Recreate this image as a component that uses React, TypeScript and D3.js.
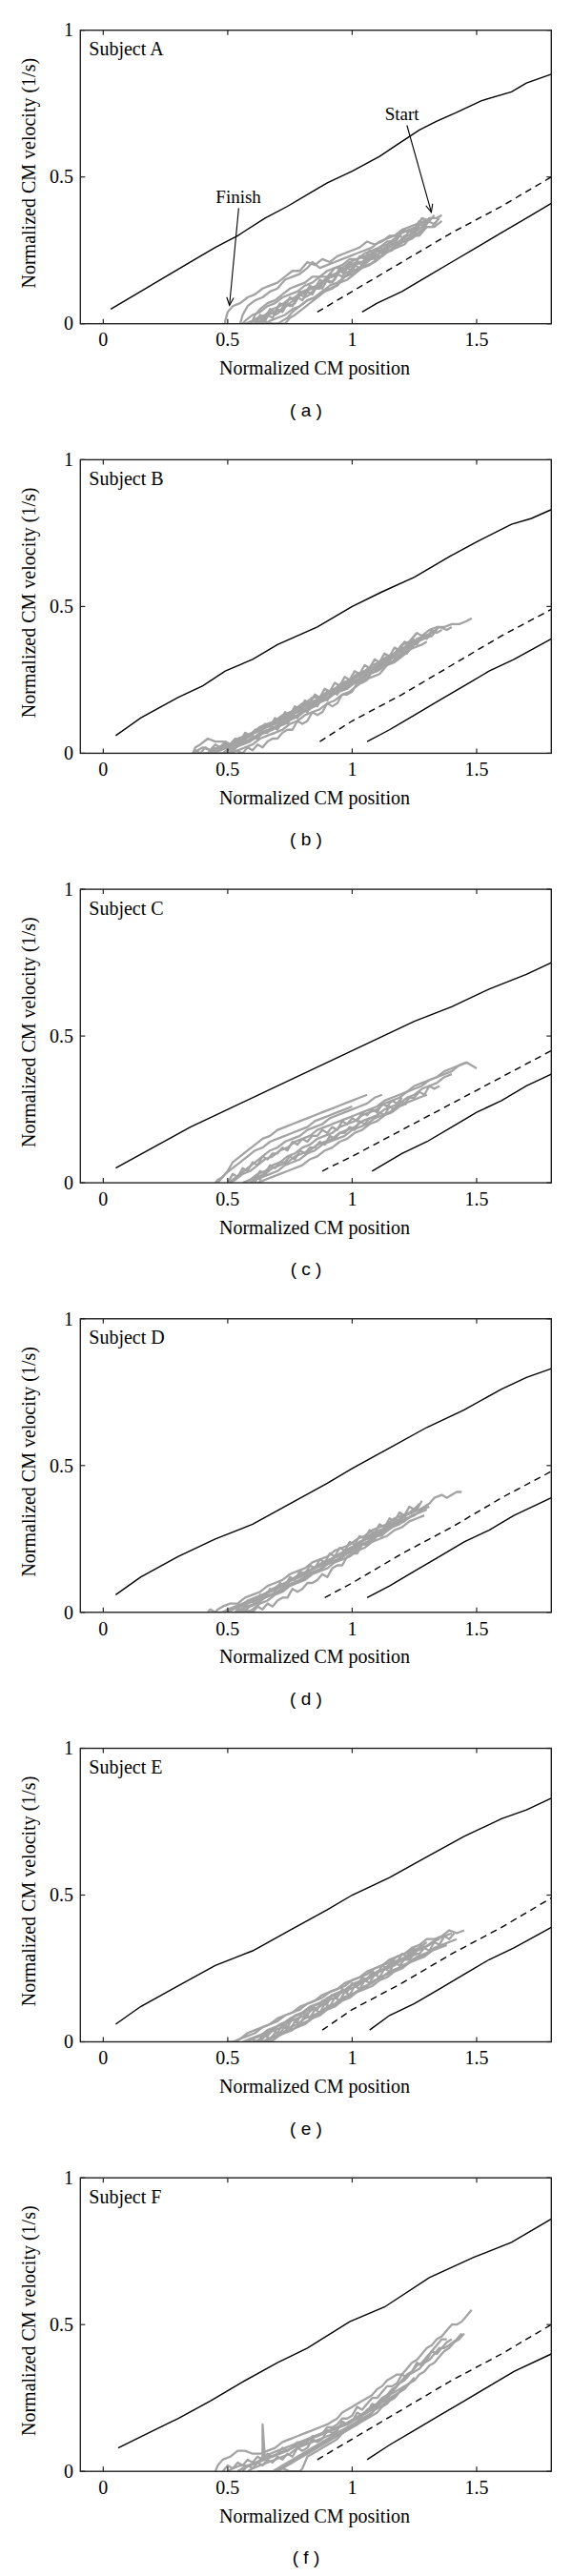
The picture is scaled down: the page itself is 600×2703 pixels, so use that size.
import React from 'react';
import * as d3 from 'd3';

// ---------------- data ----------------
const X_TICKS = [0, 0.5, 1, 1.5];
const X_TICK_LABELS = ['0', '0.5', '1', '1.5'];
const Y_TICKS = [0, 0.5, 1];
const Y_TICK_LABELS = ['0', '0.5', '1'];
const X_LABEL = 'Normalized CM position';
const Y_LABEL = 'Normalized CM velocity (1/s)';
const SUBJECTS = ['Subject A', 'Subject B', 'Subject C', 'Subject D', 'Subject E', 'Subject F'];
const CAPTIONS = ['( a )', '( b )', '( c )', '( d )', '( e )', '( f )'];

// boundary curves (x, y in hundredths)
const upperLines = [
  '3,5 15,11 25,16 37,22 45,26 54,30 65,36 74,40 82,44 90,48 100,52 111,57 118,61 127,66 134,69 142,72 152,76 164,79 170,82 180,85',
  '5,6 15,12 30,19 40,23 49,28 60,32 70,37 86,43 100,50 112,55 125,60 139,67 150,72 164,78 172,80 180,83',
  '5,5 20,12 35,19 50,25 65,31 80,37 95,43 110,49 125,55 140,60 155,66 170,71 180,75',
  '5,6 15,12 30,19 45,25 60,30 75,37 90,44 100,49 115,56 130,63 145,69 160,76 170,80 180,83',
  '5,6 15,12 30,19 45,26 60,31 75,38 90,45 100,50 115,56 130,63 145,70 160,76 170,79 180,83',
  '6,8 18,13 30,18 43,24 55,30 70,37 82,42 99,51 113,56 131,66 149,73 164,78 172,82 180,86',
];
const dashedLines = [
  '86,4 100,11 120,21 140,31 160,40 180,50',
  '87,4 100,11 120,20 140,30 160,40 180,49',
  '88,4 100,9 120,18 140,27 160,36 180,45',
  '89,5 100,10 120,20 140,29 160,39 180,48',
  '88,4 100,11 120,20 140,30 160,39 180,49',
  '86,4 100,11 120,21 140,31 160,40 180,50',
];
const lowerLines = [
  '104,4 110,7 120,11 130,16 140,21 150,26 160,31 170,36 180,41',
  '106,4 115,8 125,13 135,18 145,23 155,28 165,32 180,39',
  '108,4 120,10 130,14 140,19 150,24 160,28 170,33 180,37',
  '106,5 115,9 125,14 135,19 145,24 155,28 165,33 180,39',
  '107,4 115,9 125,13 135,18 145,23 155,28 165,32 180,39',
  '106,4 115,9 125,14 135,19 145,24 155,29 165,34 180,40',
];

// measured trajectories (x, y in hundredths)
const tracesA = [
  '136,37 134,36 131,36 129,34 127,35 124,31 121,32 118,30 115,30 112,28 109,27 106,28 103,26 100,25 97,24 94,23 91,21 88,22 85,20 82,21 79,18 76,18 73,16 70,14 67,13 64,12 61,10 58,9 55,7 52,6 50,4 49,1 49,0',
  '135,36 133,34 130,35 128,33 125,31 122,30 119,28 116,27 113,25 110,25 107,23 104,21 101,20 98,19 95,18 92,16 89,15 86,13 83,12 80,11 77,9 74,8 71,6 68,5 65,3 62,2 60,1 58,0 55,0',
  '134,35 132,33 129,33 127,31 124,29 121,28 118,27 115,25 112,23 109,23 106,21 103,19 100,18 97,16 94,14 91,13 88,11 85,9 82,8 79,6 76,4 74,2 72,1 70,0 66,0',
  '133,37 131,35 128,36 126,33 123,32 120,31 117,28 114,28 111,26 108,25 105,24 102,22 99,22 96,20 93,19 90,16 87,16 84,14 81,13 78,11 75,10 72,9 69,7 66,6 63,4 60,3 57,1 56,0',
  '130,33 128,32 125,30 122,29 119,27 116,25 113,24 110,22 107,20 104,19 101,17 98,15 95,14 92,12 89,11 86,9 83,7 80,5 77,3 75,2 73,0 68,0 64,1 62,0',
  '128,34 126,33 123,32 120,31 117,29 114,27 111,26 108,24 105,23 102,22 99,21 96,19 93,19 90,18 87,16 84,16 81,14 78,13 75,12 72,10 69,8 66,7 63,5 61,3 60,1 59,0',
  '126,31 123,29 120,28 117,27 114,26 111,24 108,23 105,21 102,21 99,20 96,18 93,17 90,16 87,13 84,12 81,11 78,9 75,7 72,5 69,4 66,3 63,1 62,0',
  '136,35 133,33 130,33 127,30 124,30 121,27 118,26 115,25 112,23 109,21 106,20 103,19 100,17 97,16 94,13 91,12 88,11 85,9 82,8 79,6 76,5 73,3 70,2 67,1 65,0 60,0',
  '132,36 129,35 126,34 123,33 120,32 117,30 114,29 111,28 108,26 105,25 102,24 99,23 96,22 93,21 90,20 87,19 84,21 82,19 79,17 76,16 73,15 70,12 67,11 64,9 61,8 58,6 56,3 55,0',
  '131,35 129,33 127,34 125,31 123,32 121,29 119,30 117,27 115,28 113,25 111,26 109,24 107,25 105,22 103,23 101,20 99,21 97,18 95,19 93,16 91,17 89,14 87,15 85,12 83,13 81,10 79,11 77,8 75,9 73,6 71,7 69,4 67,5 65,2 63,3 61,0',
  '127,33 125,32 123,30 121,30 119,28 117,27 115,26 113,26 111,24 109,22 107,23 105,21 103,19 101,20 99,18 97,17 95,18 93,15 91,14 89,15 87,12 85,12 83,10 81,9 79,10 77,7 75,6 73,7 71,4 69,3 67,4 65,1 63,2 61,0 58,0',
  '122,30 120,29 118,27 116,28 114,25 112,24 110,25 108,22 106,22 104,20 102,21 100,18 98,19 96,16 94,17 92,14 90,15 88,12 86,13 84,10 82,11 80,8 78,9 76,6 74,7 72,4 70,5 68,2 66,3 64,0 60,1 57,0',
];
const tracesB = [
  '148,46 146,45 143,44 140,44 137,43 134,43 131,42 128,40 126,41 123,38 120,37 117,34 114,33 111,31 108,30 105,28 102,27 99,25 96,24 93,22 90,21 87,19 84,19 81,17 78,15 75,14 72,13 69,11 66,10 63,9 60,7 57,6 54,5 51,3 48,2 45,1 42,0 40,0',
  '140,43 138,42 135,43 132,41 129,40 126,38 123,37 120,35 117,34 114,32 111,31 108,29 105,27 102,26 99,24 96,23 93,22 90,20 87,19 84,17 81,16 78,14 75,14 72,12 69,11 66,9 63,8 60,7 57,5 54,4 51,3 48,2 45,1 43,0',
  '134,42 132,40 129,40 126,39 123,36 120,34 117,33 114,31 111,29 108,28 105,26 102,25 99,23 96,22 93,21 90,19 87,18 84,16 81,15 78,13 75,12 72,11 69,9 66,8 63,7 60,5 57,4 54,3 51,2 48,0 45,0',
  '126,41 124,39 121,36 118,35 115,32 112,30 109,29 106,27 103,25 100,24 97,22 94,21 91,19 88,18 85,16 82,15 79,13 76,12 73,10 70,9 67,8 64,7 61,5 58,4 55,3 52,1 50,0 48,0',
  '130,38 128,37 125,36 122,35 119,33 116,31 113,30 110,28 107,27 104,25 101,24 98,22 95,21 92,20 89,18 86,17 83,15 80,14 77,12 74,11 71,10 68,8 65,7 62,6 59,4 56,3 53,2 50,1 48,0',
  '124,38 121,36 118,34 115,33 112,31 109,29 106,28 103,27 100,25 97,24 94,22 91,21 88,19 85,18 82,17 79,15 76,13 73,12 70,11 67,10 64,8 61,7 58,6 55,5 52,3 49,3 46,2 43,1 40,2 38,1 36,0',
  '132,40 129,39 126,38 123,35 120,33 117,31 114,30 111,27 108,26 105,25 102,23 99,21 96,20 93,18 90,17 87,15 84,14 81,13 78,11 75,10 72,8 69,7 66,6 63,5 60,3 57,2 54,1 51,0 47,0',
  '120,36 117,34 114,32 111,30 108,29 105,27 102,26 99,24 96,22 93,21 90,20 87,18 84,17 81,15 78,14 75,13 72,11 69,10 66,9 63,8 60,7 57,5 54,4 51,3 48,4 45,4 42,5 39,3 37,2 36,0',
  '128,39 125,37 122,36 119,35 116,33 113,32 110,30 107,28 104,27 101,26 98,24 95,22 92,21 89,20 86,18 83,17 80,17 77,15 74,13 71,12 68,10 65,9 62,8 59,6 56,4 53,3 50,2 47,1 44,0 41,0',
  '125,39 123,37 121,38 119,35 117,36 115,33 113,34 111,31 109,32 107,29 105,30 103,27 101,28 99,25 97,26 95,23 93,24 91,21 89,22 87,19 85,20 83,17 81,18 79,15 77,16 75,13 73,14 71,11 69,12 67,9 65,10 63,8 61,8 59,6 57,7 55,4 53,5 51,3 49,4 47,2 45,3 43,1 41,2 39,0 37,1 36,0',
  '118,33 116,31 114,32 112,29 110,28 108,28 106,25 104,24 102,24 100,21 98,20 96,20 94,17 92,16 90,17 88,14 86,13 84,14 82,11 80,10 78,11 76,8 74,8 72,7 70,5 68,5 66,4 64,2 62,3 60,1 58,2 56,0 53,1 51,0',
  '136,42 134,41 132,42 130,39 128,40 126,37 124,38 122,34 120,35 118,32 116,33 114,30 112,31 110,28 108,29 106,26 104,27 102,24 100,25 98,22 96,23 94,20 92,21 90,18 88,19 86,16 84,17 82,14 80,15 78,12 76,13 74,10 72,11 70,8 68,9 66,7 64,7 62,5 60,6 58,4 56,5 54,3 52,4 50,2 48,3 46,1 44,2 42,0',
];
const tracesC = [
  '150,39 148,40 146,41 143,40 140,38 137,37 134,36 131,35 128,34 125,33 122,31 119,30 116,29 113,28 110,26 107,25 104,24 101,23 98,22 95,21 92,20 89,19 86,18 83,16 80,15 77,14 74,12 71,11 68,9 65,8 62,6 59,4 56,3 53,1 51,0',
  '146,41 143,40 140,39 137,38 134,36 131,35 128,33 125,32 122,31 119,29 116,28 113,27 110,25 107,24 104,23 101,21 98,20 95,19 92,17 89,16 86,15 83,13 80,12 77,10 74,9 71,7 68,6 65,4 62,3 59,1 57,0',
  '106,30 103,29 100,28 97,27 94,26 91,25 88,24 85,23 82,22 79,21 76,20 73,19 70,18 67,16 64,15 61,13 58,11 55,9 52,7 50,4 48,2 46,1 45,0',
  '112,30 109,29 106,27 103,26 100,25 97,24 94,23 91,22 88,20 85,19 82,18 79,16 76,15 73,14 70,12 67,11 64,9 61,7 58,5 55,3 52,1 50,0',
  '130,30 127,29 124,28 121,27 118,26 115,24 112,23 109,22 106,20 103,19 100,18 97,16 94,15 91,14 88,13 85,11 82,10 79,8 76,7 73,6 70,4 67,3 64,2 61,1 59,0',
  '122,27 119,26 116,24 113,23 110,21 107,20 104,18 101,17 98,15 95,14 92,12 89,11 86,9 83,8 80,6 77,5 74,4 71,3 68,2 65,1 62,0',
  '140,37 137,36 134,34 131,33 128,32 125,30 122,29 119,27 116,26 113,25 110,23 107,22 104,21 101,19 98,18 95,17 92,15 89,14 86,13 83,11 80,10 77,9 74,7 71,6 68,5 65,3 62,2 59,1 56,0',
  '100,26 97,25 94,24 91,23 88,22 85,21 82,19 79,18 76,17 73,16 70,15 67,14 64,12 61,11 58,9 55,7 52,5 49,3 47,1 46,0',
  '64,3 63,1 62,2 61,0',
  '120,29 118,27 116,28 114,26 112,27 110,24 108,25 106,23 104,24 102,21 100,22 98,20 96,21 94,18 92,19 90,17 88,18 86,16 84,16 82,14 80,15 78,13 76,14 74,11 72,12 70,10 68,10 66,8 64,9 62,6 60,7 58,4 56,5 54,2 52,3 50,0',
  '135,33 133,32 131,33 129,30 127,31 125,29 123,29 121,27 119,28 117,25 115,26 113,23 111,24 109,22 107,22 105,20 103,21 101,18 99,19 97,17 95,17 93,15 91,16 89,13 87,14 85,12 83,12 81,10 79,11 77,8 75,9 73,7 71,7 69,5 67,6 65,3 63,4 61,1 59,0',
];
const tracesD = [
  '144,41 142,41 140,40 138,39 136,40 133,39 131,37 129,36 127,35 124,34 121,33 118,31 115,30 112,28 109,27 106,25 103,24 100,22 97,21 94,19 91,18 88,16 85,15 82,14 79,12 76,11 73,10 70,8 67,7 64,6 61,4 58,3 55,2 52,1 49,0 47,0',
  '128,38 126,35 124,34 121,33 118,31 115,29 112,28 109,26 106,25 103,24 100,22 97,21 94,19 91,18 88,17 85,15 82,14 79,13 76,11 73,10 70,9 67,7 64,6 61,5 58,4 55,2 52,1 50,0',
  '130,35 127,34 124,33 121,31 118,30 115,29 112,27 109,26 106,24 103,23 100,21 97,20 94,18 91,17 88,15 85,14 82,13 79,11 76,10 73,9 70,7 67,6 64,5 61,3 58,2 55,1 53,0',
  '126,36 123,34 120,32 117,31 114,29 111,28 108,27 105,25 102,23 99,22 96,20 93,19 90,17 87,16 84,15 81,13 78,12 75,11 72,9 69,8 66,7 63,5 60,4 57,3 54,2 51,1 49,0',
  '131,36 128,35 125,33 122,32 119,31 116,30 113,28 110,27 107,26 104,24 101,22 98,21 95,20 92,18 89,17 86,16 83,14 80,13 77,12 74,10 71,9 68,8 65,6 62,5 59,4 56,3 53,2 50,1 48,0 45,0 43,1 42,0',
  '122,32 119,30 116,29 113,27 110,26 107,24 104,23 101,21 98,20 95,18 92,17 89,16 86,14 83,13 80,11 77,10 74,9 71,7 68,6 65,5 62,3 59,2 56,0',
  '129,33 126,32 123,31 120,29 117,28 114,26 111,25 108,24 105,22 102,21 99,19 96,18 93,17 90,15 87,14 84,13 81,11 78,10 75,9 72,7 69,6 66,4 63,3 60,1 58,0 56,1 54,0',
  '120,33 117,32 114,30 111,29 108,28 105,26 102,25 99,23 96,22 93,21 90,19 87,18 84,17 81,15 78,14 75,13 72,11 69,10 66,9 63,7 60,6 57,5 54,3 51,3 48,2 46,1 45,0',
  '127,37 125,35 123,36 121,33 119,34 117,31 115,32 113,29 111,30 109,27 107,28 105,25 103,26 101,23 99,24 97,21 95,22 93,19 91,20 89,17 87,18 85,15 83,16 81,13 79,14 77,11 75,12 73,9 71,10 69,7 67,8 65,5 63,6 61,3 59,4 57,2 55,2 53,0',
  '124,33 122,32 120,33 118,30 116,29 114,29 112,26 110,26 108,24 106,23 104,23 102,20 100,20 98,19 96,16 94,16 92,15 90,12 88,13 86,11 84,10 82,10 80,8 78,7 76,8 74,5 72,5 70,4 68,2 66,3 64,1 62,2 60,0 57,1 55,0',
];
const tracesE = [
  '145,38 142,37 139,38 136,36 133,35 130,35 127,33 124,32 121,30 118,29 115,28 112,26 109,25 106,24 103,22 100,21 97,20 94,18 91,17 88,16 85,14 82,13 79,12 76,10 73,9 70,8 67,6 64,5 61,4 58,3 55,1 52,0',
  '140,37 137,36 134,35 131,33 128,32 125,31 122,29 119,28 116,27 113,25 110,24 107,22 104,21 101,20 98,18 95,17 92,16 89,14 86,13 83,12 80,10 77,9 74,7 71,6 68,4 65,3 62,2 59,1 57,0',
  '142,35 139,34 136,33 133,32 130,30 127,29 124,28 121,26 118,25 115,24 112,22 109,21 106,19 103,18 100,16 97,15 94,13 91,12 88,10 85,9 82,7 79,6 76,4 73,3 70,2 67,1 65,0',
  '135,35 132,34 129,32 126,31 123,29 120,28 117,27 114,25 111,24 108,23 105,21 102,20 99,19 96,17 93,16 90,15 87,13 84,12 81,10 78,9 75,8 72,6 69,5 66,4 63,2 60,1 58,0',
  '138,33 135,32 132,31 129,29 126,28 123,27 120,25 117,24 114,22 111,21 108,19 105,18 102,17 99,15 96,14 93,12 90,11 87,9 84,8 81,6 78,5 75,4 72,3 69,1 67,0 63,0',
  '130,34 127,32 124,31 121,30 118,29 115,27 112,26 109,25 106,23 103,22 100,21 97,19 94,18 91,17 88,15 85,14 82,13 79,11 76,10 73,9 70,7 67,6 64,5 61,3 58,2 55,1 53,0 50,0',
  '126,30 123,29 120,28 117,26 114,25 111,24 108,22 105,21 102,19 99,18 96,17 93,15 90,14 87,12 84,11 81,9 78,8 75,7 72,5 69,4 66,3 63,1 61,0',
  '132,31 129,30 126,29 123,27 120,26 117,24 114,23 111,22 108,20 105,19 102,17 99,16 96,15 93,13 90,12 87,10 84,9 81,8 78,6 75,5 72,3 69,2 66,1 64,0',
  '141,37 139,35 137,36 135,33 133,34 131,31 129,32 127,30 125,30 123,28 121,28 119,26 117,27 115,24 113,25 111,22 109,23 107,20 105,21 103,18 101,19 99,16 97,17 95,14 93,15 91,12 89,13 87,10 85,11 83,8 81,9 79,6 77,7 75,4 73,5 71,3 69,3 67,1 65,2 63,0',
  '128,33 126,31 124,32 122,29 120,30 118,27 116,28 114,25 112,26 110,23 108,24 106,21 104,22 102,19 100,20 98,17 96,18 94,15 92,16 90,13 88,14 86,11 84,12 82,9 80,10 78,7 76,8 74,5 72,6 70,3 68,4 66,2 64,2 62,0 59,1 56,0',
];
const tracesF = [
  '148,55 146,53 144,51 142,50 140,50 138,48 136,46 134,45 132,43 130,42 128,40 126,38 124,37 122,35 120,33 118,33 116,32 114,31 112,29 110,28 108,26 106,25 104,24 102,23 100,22 98,21 96,20 94,18 92,17 90,16 87,15 84,14 81,13 78,12 75,11 72,10 69,8 66,7 63,6 60,6 57,7 54,7 51,5 48,4 46,2 45,0',
  '144,47 142,45 139,43 137,42 135,42 133,40 131,38 129,37 127,35 125,34 123,33 121,31 119,30 117,28 115,26 113,25 111,24 109,22 107,21 105,20 103,19 101,18 99,17 97,16 94,15 91,14 88,13 85,12 82,11 79,9 76,8 73,7 70,6 67,5 64,4 61,3 58,2 55,2 52,1 50,0',
  '138,45 136,45 134,43 132,41 130,39 128,37 126,36 124,34 122,33 120,31 118,29 116,28 114,26 112,25 110,23 108,22 106,21 104,19 102,18 100,17 98,16 95,15 92,14 89,13 86,12 83,11 80,10 77,9 74,7 71,6 68,5 65,4 62,3 59,2 56,1 54,0',
  '145,47 143,45 141,44 139,42 137,41 135,39 133,37 131,36 129,34 127,33 125,31 123,30 121,28 119,27 117,25 115,24 113,23 111,22 109,21 107,19 105,18 103,17 101,16 99,15 96,14 93,13 90,12 87,11 84,10 81,9 78,8 75,6 72,5 69,4 66,3 63,2 60,1 58,0',
  '121,29 119,28 117,27 115,26 113,24 111,23 109,22 107,21 105,20 103,19 101,18 99,17 97,16 94,15 91,14 88,13 85,12 82,11 79,10 76,9 73,8 70,7 67,6 65,4 64,16 64,5 62,3 59,2 56,1 54,0',
  '112,24 110,23 108,21 106,20 104,19 102,17 100,16 98,15 96,14 94,13 92,12 90,11 88,10 86,9 84,8 82,7 80,6 78,5 76,4 74,3 72,2 70,1 68,0 62,0',
  '118,26 116,25 114,23 112,22 110,20 108,19 106,18 104,17 102,16 100,15 98,14 96,13 94,12 92,11 90,10 88,9 86,8 84,7 82,6 80,5 78,4 76,3 74,2 72,1 70,0 65,0',
  '108,20 106,19 104,18 102,16 100,15 98,14 96,13 94,11 92,10 90,9 88,8 86,7 84,6 82,5 81,3 80,1 79,0 75,0 72,1 70,0',
  '125,32 123,30 121,29 119,27 117,26 115,25 113,23 111,22 109,21 107,19 105,18 103,17 101,16 99,15 97,14 95,13 93,12 91,11 89,10 87,9 85,8 83,7 81,6 79,5 77,4 75,3 73,2 71,1 69,0',
  '140,45 138,44 136,42 134,40 132,41 130,38 128,36 126,37 124,34 122,32 120,33 118,30 116,29 114,29 112,27 110,25 108,25 106,23 104,21 102,22 100,19 98,18 96,18 94,16 92,15 90,15 88,13 86,12 84,12 82,10 80,9 78,10 76,8 74,7 72,8 70,6 68,5 66,6 64,4 62,5 60,3 58,4 56,2 54,3 52,1 50,2 48,0',
  '116,27 114,26 112,24 110,22 108,23 106,20 104,19 102,20 100,17 98,16 96,17 94,14 92,13 90,14 88,11 86,10 84,11 82,8 80,7 78,8 76,5 74,6 72,4 70,5 68,3 66,4 64,2 62,3 60,1 58,2 56,0',
];
const TRACES = [tracesA, tracesB, tracesC, tracesD, tracesE, tracesF];

// panel (a) annotations: [x, y] in data units
const START_TEXT = [1.2, 0.694];
const START_ARROW = [[1.22, 0.676], [1.318, 0.38]];
const FINISH_TEXT = [0.543, 0.412];
const FINISH_ARROW = [[0.544, 0.394], [0.507, 0.063]];

// ---------------- layout ----------------
const W = 600;
const H = 2703;
const PLOT_LEFT = 84.3;
const PLOT_RIGHT = 578.3;
const FIRST_TOP = 31.7;
const PANEL_STEP = 450.7;
const PLOT_H = 308;
const X_DOMAIN = [-0.092, 1.8];
const SERIF = '"Liberation Serif", "Times New Roman", Times, serif';
const SANS = '"Liberation Sans", Arial, Helvetica, sans-serif';

const parse = (s: string): [number, number][] =>
  s.trim().split(/\s+/).map((p) => {
    const [a, b] = p.split(',').map(Number);
    return [a / 100, b / 100] as [number, number];
  });

function arrowHead(x1: number, y1: number, x2: number, y2: number, len = 9, ang = 0.42) {
  const a = Math.atan2(y2 - y1, x2 - x1);
  const p1 = [x2 - len * Math.cos(a - ang), y2 - len * Math.sin(a - ang)];
  const p2 = [x2 - len * Math.cos(a + ang), y2 - len * Math.sin(a + ang)];
  return `M${p1[0]},${p1[1]}L${x2},${y2}L${p2[0]},${p2[1]}`;
}

function Panel({ index }: { index: number }) {
  const top = FIRST_TOP + index * PANEL_STEP;
  const bottom = top + PLOT_H;
  const x = d3.scaleLinear().domain(X_DOMAIN).range([PLOT_LEFT, PLOT_RIGHT]);
  const y = d3.scaleLinear().domain([0, 1]).range([bottom, top]);
  const line = d3.line<[number, number]>().x((d) => x(d[0])).y((d) => y(d[1]));
  const clipId = `clip${index}`;
  const tickLen = 5;

  let annotations = null;
  if (index === 0) {
    const [s0, s1] = START_ARROW;
    const [f0, f1] = FINISH_ARROW;
    annotations = (
      <g>
        <text x={x(START_TEXT[0])} y={y(START_TEXT[1])} fontFamily={SERIF} fontSize={19} textAnchor="middle">Start</text>
        <text x={x(FINISH_TEXT[0])} y={y(FINISH_TEXT[1])} fontFamily={SERIF} fontSize={19} textAnchor="middle">Finish</text>
        <path d={`M${x(s0[0])},${y(s0[1])}L${x(s1[0])},${y(s1[1])}`} stroke="#000" strokeWidth={1.1} fill="none" />
        <path d={arrowHead(x(s0[0]), y(s0[1]), x(s1[0]), y(s1[1]))} stroke="#000" strokeWidth={1.1} fill="none" />
        <path d={`M${x(f0[0])},${y(f0[1])}L${x(f1[0])},${y(f1[1])}`} stroke="#000" strokeWidth={1.1} fill="none" />
        <path d={arrowHead(x(f0[0]), y(f0[1]), x(f1[0]), y(f1[1]))} stroke="#000" strokeWidth={1.1} fill="none" />
      </g>
    );
  }

  return (
    <g>
      <defs>
        <clipPath id={clipId}>
          <rect x={PLOT_LEFT} y={top} width={PLOT_RIGHT - PLOT_LEFT} height={PLOT_H} />
        </clipPath>
      </defs>
      <g clipPath={`url(#${clipId})`}>
        {TRACES[index].map((t, i) => (
          <path key={i} d={line(parse(t)) || ''} stroke="#a3a3a3" strokeWidth={2.3} fill="none" strokeLinejoin="round" />
        ))}
        <path d={line(parse(upperLines[index])) || ''} stroke="#000" strokeWidth={1.4} fill="none" />
        <path d={line(parse(dashedLines[index])) || ''} stroke="#000" strokeWidth={1.4} fill="none" strokeDasharray="7,5" />
        <path d={line(parse(lowerLines[index])) || ''} stroke="#000" strokeWidth={1.4} fill="none" />
      </g>
      {annotations}
      <rect x={PLOT_LEFT} y={top} width={PLOT_RIGHT - PLOT_LEFT} height={PLOT_H} fill="none" stroke="#222" strokeWidth={1.4} />
      {X_TICKS.map((t, i) => (
        <g key={'x' + i}>
          <line x1={x(t)} x2={x(t)} y1={bottom} y2={bottom - tickLen} stroke="#222" strokeWidth={1.2} />
          <line x1={x(t)} x2={x(t)} y1={top} y2={top + tickLen} stroke="#222" strokeWidth={1.2} />
          <text x={x(t)} y={bottom + 23.7} fontFamily={SERIF} fontSize={20} textAnchor="middle">{X_TICK_LABELS[i]}</text>
        </g>
      ))}
      {Y_TICKS.map((t, i) => (
        <g key={'y' + i}>
          <line x1={PLOT_LEFT} x2={PLOT_LEFT + tickLen} y1={y(t)} y2={y(t)} stroke="#222" strokeWidth={1.2} />
          <line x1={PLOT_RIGHT} x2={PLOT_RIGHT - tickLen} y1={y(t)} y2={y(t)} stroke="#222" strokeWidth={1.2} />
          <text x={77} y={y(t) + 6.7} fontFamily={SERIF} fontSize={20} textAnchor="end">{Y_TICK_LABELS[i]}</text>
        </g>
      ))}
      <text x={93.3} y={top + 26.6} fontFamily={SERIF} fontSize={20}>{SUBJECTS[index]}</text>
      <text x={330} y={top + 361.6} fontFamily={SERIF} fontSize={20} textAnchor="middle">{X_LABEL}</text>
      <text transform={`translate(37,${top + 150}) rotate(-90)`} fontFamily={SERIF} fontSize={20} textAnchor="middle">{Y_LABEL}</text>
      <text x={321} y={top + 405} fontFamily={SANS} fontSize={19} textAnchor="middle">{CAPTIONS[index]}</text>
    </g>
  );
}

export default function App() {
  return (
    <svg width={W} height={H} viewBox={`0 0 ${W} ${H}`} style={{ position: 'absolute', left: 0, top: 0, background: '#fff' }}>
      <rect x={0} y={0} width={W} height={H} fill="#fff" />
      {SUBJECTS.map((_, i) => (
        <Panel key={i} index={i} />
      ))}
    </svg>
  );
}
